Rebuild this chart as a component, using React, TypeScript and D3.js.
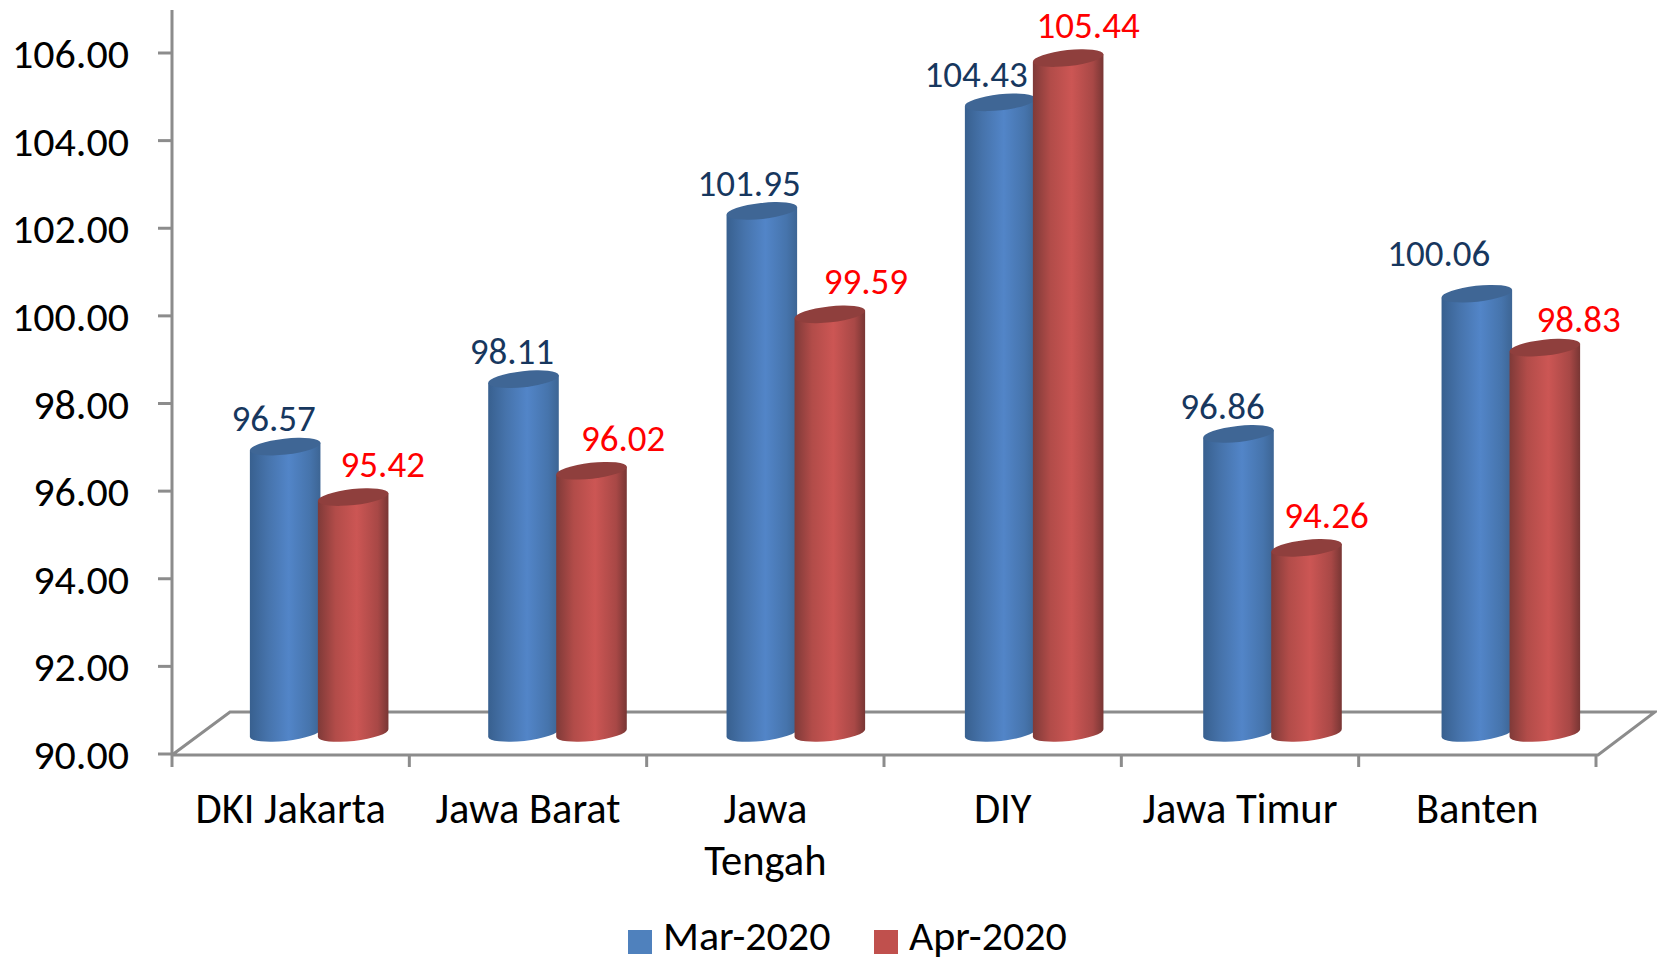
import React from "react";
import * as d3 from "d3";

const categories = ["DKI Jakarta", "Jawa Barat", "Jawa Tengah", "DIY", "Jawa Timur", "Banten"];
const categoryLines = [["DKI Jakarta"], ["Jawa Barat"], ["Jawa", "Tengah"], ["DIY"], ["Jawa Timur"], ["Banten"]];
const mar2020 = [96.57, 98.11, 101.95, 104.43, 96.86, 100.06];
const apr2020 = [95.42, 96.02, 99.59, 105.44, 94.26, 98.83];
const yTicks = [90, 92, 94, 96, 98, 100, 102, 104, 106];
const marLabelNudge = [[-11.6, -27], [-11.6, -27], [-12.7, -27], [-24, -27], [-16, -27], [-38, -40]];
const aprLabelNudge = [[29.6, -32], [31.7, -32], [36, -32], [20, -32], [20, -32], [33.8, -27]];

const W = 1657, H = 961;
const FONT = "Carlito, Calibri, Lato, sans-serif";
const AXIS = "#8c8c8c";
const y = d3.scaleLinear().domain([90, 106]).range([754, 53]);
const xAxis = d3.scaleBand<string>().domain(categories).range([172, 1596]);
const xBars = d3.scaleBand<string>().domain(categories).range([200, 1630]);
const DEPTH_TOP = 19.5, DEPTH_BOT = 21, RX = 35.5, RY = 8, TILT = -6.3, BAR_OFF = 34;

const rad = (TILT * Math.PI) / 180;
const ex = RX * Math.cos(rad), ey = RX * Math.sin(rad);

function bodyPath(cx: number, top: number, bot: number) {
  const p = d3.path();
  p.moveTo(cx - ex, top - ey);
  p.lineTo(cx + ex, top + ey);
  p.lineTo(cx + ex, bot + ey);
  const s = `A${RX} ${RY} ${TILT} 0 1 ${cx - ex} ${bot - ey}`;
  return p.toString() + s + "Z";
}

function Cylinder({ cx, v, grad, cap }: { cx: number; v: number; grad: string; cap: string }) {
  const top = y(v) - DEPTH_TOP;
  const bot = y(90) - DEPTH_BOT;
  return (
    <g>
      <path d={bodyPath(cx, top, bot)} fill={`url(#${grad})`} />
      <ellipse cx={cx} cy={top} rx={RX} ry={RY} fill={cap} transform={`rotate(${TILT} ${cx} ${top})`} />
    </g>
  );
}

function Grad({ id, stops }: { id: string; stops: [number, string][] }) {
  return (
    <linearGradient id={id} x1="0" x2="1" y1="0" y2="0">
      {stops.map(([o, c]) => (
        <stop key={o} offset={o} stopColor={c} />
      ))}
    </linearGradient>
  );
}

export default function App() {
  const y0 = y(90);
  const backY = y0 - 42;
  const left = xAxis.range()[0], right = xAxis.range()[1];
  React.useEffect(() => {
    document.body.style.margin = "0";
    document.body.style.background = "#fff";
  }, []);
  return (
    <svg width={W} height={H} viewBox={`0 0 ${W} ${H}`} style={{ position: "absolute", left: 0, top: 0, background: "#fff" }} fontFamily={FONT}>
      <defs>
        <Grad id="blue" stops={[[0, "#38608f"], [0.25, "#4673ab"], [0.55, "#5285c8"], [0.85, "#4674ac"], [1, "#3d6594"]]} />
        <Grad id="red" stops={[[0, "#7f3a38"], [0.25, "#b24c49"], [0.55, "#cc5654"], [0.85, "#a84846"], [1, "#783634"]]} />
      </defs>
      {/* floor */}
      <path d={`M${left} ${y0 + 1}L${left + 58} ${backY}H${right + 59}L${right + 2} ${y0 + 1}H${left}`} fill="none" stroke={AXIS} strokeWidth={3} />
      {/* y axis */}
      <line x1={left} x2={left} y1={10} y2={y0 + 1} stroke={AXIS} strokeWidth={3} />
      {yTicks.map((t) => (
        <g key={t}>
          <line x1={left - 14} x2={left} y1={y(t)} y2={y(t)} stroke={AXIS} strokeWidth={3} />
          <text x={129} y={y(t)} dy="0.36em" textAnchor="end" fontSize={42} fill="#000">{d3.format(".2f")(t)}</text>
        </g>
      ))}
      {/* x axis ticks and labels */}
      {d3.range(7).map((i) => {
        const tx = left + i * xAxis.step();
        return <line key={i} x1={tx} x2={tx} y1={y0 + 1} y2={y0 + 13} stroke={AXIS} strokeWidth={3} />;
      })}
      {categories.map((c, i) => (
        <text key={c} textAnchor="middle" fontSize={42.5} fill="#000">
          {categoryLines[i].map((l, j) => (
            <tspan key={l} x={xAxis(c)! + xAxis.bandwidth() / 2} y={823 + j * 52}>{l}</tspan>
          ))}
        </text>
      ))}
      {/* bars */}
      {categories.map((c, i) => {
        const mid = xBars(c)! + xBars.bandwidth() / 2;
        return (
          <g key={c}>
            <Cylinder cx={mid - BAR_OFF} v={mar2020[i]} grad="blue" cap="#3f6695" />
            <Cylinder cx={mid + BAR_OFF} v={apr2020[i]} grad="red" cap="#8f3f3d" />
          </g>
        );
      })}
      {/* value labels */}
      {categories.map((c, i) => {
        const mid = xBars(c)! + xBars.bandwidth() / 2;
        return (
          <g key={c} fontSize={37} textAnchor="middle">
            <text x={mid - BAR_OFF + marLabelNudge[i][0]} y={y(mar2020[i]) - 21 + marLabelNudge[i][1]} dy="0.36em" fill="#17375e">{mar2020[i].toFixed(2)}</text>
            <text x={mid + BAR_OFF + aprLabelNudge[i][0]} y={y(apr2020[i]) - 21 + aprLabelNudge[i][1]} dy="0.36em" fill="#ff0000">{apr2020[i].toFixed(2)}</text>
          </g>
        );
      })}
      {/* legend */}
      <rect x={628} y={930} width={24} height={24} fill="#4f81bd" />
      <text x={663} y={950} fontSize={42} fill="#000">Mar-2020</text>
      <rect x={874} y={930} width={24} height={24} fill="#c0504d" />
      <text x={909} y={950} fontSize={42} fill="#000">Apr-2020</text>
    </svg>
  );
}
